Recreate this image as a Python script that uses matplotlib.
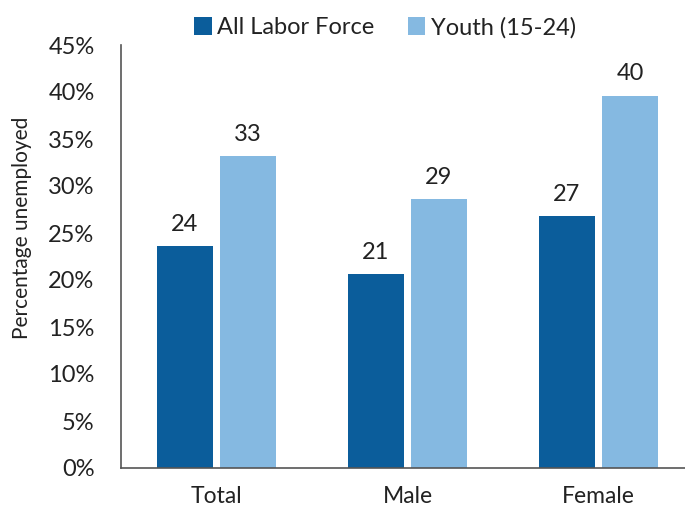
import matplotlib.pyplot as plt
import numpy as np
from matplotlib.ticker import PercentFormatter

groups = ["Total", "Male", "Female"]
all_labor = [23.6, 20.6, 26.8]
youth = [33.2, 28.6, 39.6]
series_names = ["All Labor Force", "Youth (15-24)"]

dark = "#0b5d9b"
light = "#85b9e1"

plt.rcParams["font.family"] = ["Lato", "DejaVu Sans"]

fig = plt.figure(figsize=(6.85, 5.13), dpi=100)
ax = fig.add_axes([121 / 685, 1 - 468 / 513, 573 / 685, 423 / 513])

x = np.arange(len(groups))
w = 0.29
b1 = ax.bar(x - 0.165, all_labor, w, color=dark, label=series_names[0])
b2 = ax.bar(x + 0.165, youth, w, color=light, label=series_names[1])

# value labels above each bar
for bars, vals in [(b1, all_labor), (b2, youth)]:
    for r, v in zip(bars, vals):
        ax.text(r.get_x() + r.get_width() / 2, v + 1.2, f"{v:.0f}",
                ha="center", va="bottom", fontsize=17, color="#222222")

ax.set_xlim(-0.5, 2.5)
ax.set_ylim(0, 45)
ax.set_yticks(range(0, 46, 5))
ax.yaxis.set_major_formatter(PercentFormatter(decimals=0))
ax.set_xticks(x)
ax.set_xticklabels(groups, fontsize=16.5)
ax.tick_params(axis="y", labelsize=17, length=0, pad=19, colors="#222222")
ax.tick_params(axis="x", length=0, pad=13, colors="#222222")
ax.set_ylabel("Percentage unemployed", fontsize=15, color="#222222")
ax.yaxis.set_label_coords(-0.155, (468 - 228) / 423)

for s in ["top", "right"]:
    ax.spines[s].set_visible(False)
for s in ["left", "bottom"]:
    ax.spines[s].set_color("#555555")
    ax.spines[s].set_linewidth(1.2)

ax.legend(loc="lower center", bbox_to_anchor=(0.461, 0.988), ncol=2,
          frameon=False, fontsize=17, handlelength=0.75, handleheight=0.75,
          handletextpad=0.25, columnspacing=1.4, borderaxespad=0.1,
          labelcolor="#222222")

fig.savefig("out.png", dpi=100)
